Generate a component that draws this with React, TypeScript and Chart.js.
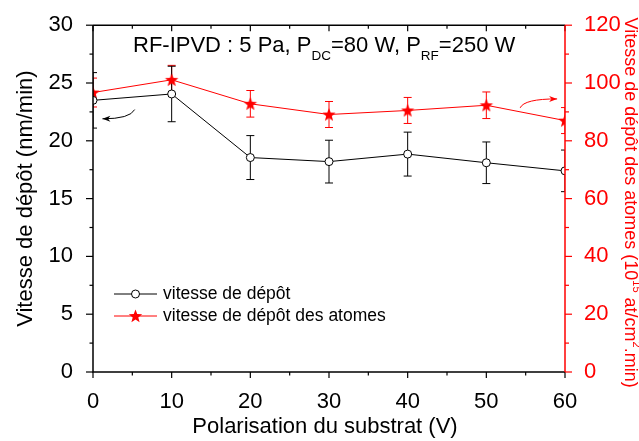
import React, { useEffect, useRef } from 'react';
import { Chart, registerables } from 'chart.js';

Chart.register(...registerables);

// ---- data ----
const bias = [0, 10, 20, 30, 40, 50, 60];
const depositionRate = [23.5, 24.05, 18.55, 18.2, 18.85, 18.1, 17.4];
const depositionRateErr = [2.4, 2.4, 1.9, 1.85, 1.9, 1.8, 1.8];
const atomRate = [96.7, 101.1, 92.8, 89.1, 90.5, 92.3, 87.0];
const atomRateErr = [5.0, 5.0, 4.6, 4.5, 4.5, 4.6, 4.5];

const xTicks = [0, 10, 20, 30, 40, 50, 60];
const leftTicks = [0, 5, 10, 15, 20, 25, 30];
const rightTicks = [0, 20, 40, 60, 80, 100, 120];

const xTitle = 'Polarisation du substrat (V)';
const leftTitle = 'Vitesse de dépôt (nm/min)';
const legendLabels = ['vitesse de dépôt', 'vitesse de dépôt des atomes'];

// annotation arrows, in data coordinates [x, y]
const leftArrow = { tail: [5.3, 22.7], ctrl: [4.7, 21.9], head: [1.2, 21.9] };
const rightArrow = { tail: [54.3, 91.4], ctrl: [54.8, 94.5], head: [59.0, 94.5] };

const FONT = '"Liberation Sans", Arial, Helvetica, sans-serif';
const RED = '#ff0000';

function starPath(g: CanvasRenderingContext2D, cx: number, cy: number, r: number) {
  g.beginPath();
  for (let i = 0; i < 10; i++) {
    const rad = i % 2 === 0 ? r : r * 0.42;
    const a = -Math.PI / 2 + (i * Math.PI) / 5;
    const x = cx + rad * Math.cos(a);
    const y = cy + rad * Math.sin(a);
    if (i === 0) g.moveTo(x, y);
    else g.lineTo(x, y);
  }
  g.closePath();
}

function makeStar(color: string, r: number) {
  const size = Math.ceil(r * 2 + 2);
  const c = document.createElement('canvas');
  c.width = size;
  c.height = size;
  const g = c.getContext('2d')!;
  g.fillStyle = color;
  starPath(g, size / 2, size / 2 + 0.5, r);
  g.fill();
  return c;
}

function drawSegments(
  ctx: CanvasRenderingContext2D,
  segs: { t: string; mode?: 'sub' | 'sup' }[],
  x0: number,
  y0: number,
  size: number,
  small: number,
  align: 'left' | 'center'
) {
  const fontMain = `${size}px ${FONT}`;
  const fontSmall = `${small}px ${FONT}`;
  let total = 0;
  for (const s of segs) {
    ctx.font = s.mode ? fontSmall : fontMain;
    total += ctx.measureText(s.t).width;
  }
  let x = align === 'center' ? x0 - total / 2 : x0;
  ctx.textAlign = 'left';
  ctx.textBaseline = 'alphabetic';
  for (const s of segs) {
    ctx.font = s.mode ? fontSmall : fontMain;
    let dy = 0;
    if (s.mode === 'sub') dy = size * 0.36;
    if (s.mode === 'sup') dy = -size * 0.45;
    ctx.fillText(s.t, x, y0 + dy);
    x += ctx.measureText(s.t).width;
  }
}

function drawArrow(ctx: CanvasRenderingContext2D, xs: any, ys: any, arr: any, color: string) {
  const T = [xs.getPixelForValue(arr.tail[0]), ys.getPixelForValue(arr.tail[1])];
  const C = [xs.getPixelForValue(arr.ctrl[0]), ys.getPixelForValue(arr.ctrl[1])];
  const H = [xs.getPixelForValue(arr.head[0]), ys.getPixelForValue(arr.head[1])];
  ctx.save();
  ctx.strokeStyle = color;
  ctx.fillStyle = color;
  ctx.lineWidth = 1;
  ctx.beginPath();
  ctx.moveTo(T[0], T[1]);
  ctx.quadraticCurveTo(C[0], C[1], H[0], H[1]);
  ctx.stroke();
  const ang = Math.atan2(H[1] - C[1], H[0] - C[0]);
  const L = 8;
  const W = 3;
  ctx.beginPath();
  ctx.moveTo(H[0], H[1]);
  ctx.lineTo(H[0] - L * Math.cos(ang) + W * Math.sin(ang), H[1] - L * Math.sin(ang) - W * Math.cos(ang));
  ctx.lineTo(H[0] - L * 0.7 * Math.cos(ang), H[1] - L * 0.7 * Math.sin(ang));
  ctx.lineTo(H[0] - L * Math.cos(ang) - W * Math.sin(ang), H[1] - L * Math.sin(ang) + W * Math.cos(ang));
  ctx.closePath();
  ctx.fill();
  ctx.restore();
}

const overlayPlugin = {
  id: 'overlay',
  beforeDatasetsDraw(chart: any) {
    const { ctx, chartArea: a, scales } = chart;
    ctx.save();
    ctx.beginPath();
    ctx.rect(a.left, a.top, a.right - a.left, a.bottom - a.top);
    ctx.clip();
    const drawErr = (vals: number[], errs: number[], ys: any, color: string, cap: number) => {
      ctx.strokeStyle = color;
      ctx.lineWidth = 1;
      for (let i = 0; i < bias.length; i++) {
        const x = scales.x.getPixelForValue(bias[i]);
        const yt = ys.getPixelForValue(vals[i] + errs[i]);
        const yb = ys.getPixelForValue(vals[i] - errs[i]);
        ctx.beginPath();
        ctx.moveTo(x, yt);
        ctx.lineTo(x, yb);
        ctx.moveTo(x - cap, yt);
        ctx.lineTo(x + cap, yt);
        ctx.moveTo(x - cap, yb);
        ctx.lineTo(x + cap, yb);
        ctx.stroke();
      }
    };
    drawErr(atomRate, atomRateErr, scales.y1, RED, 4);
    drawErr(depositionRate, depositionRateErr, scales.y, '#000', 4);
    ctx.restore();
  },
  afterDraw(chart: any) {
    const { ctx, chartArea: a, scales } = chart;
    const xs = scales.x;
    const yl = scales.y;
    const yr = scales.y1;
    ctx.save();

    // arrows
    drawArrow(ctx, xs, yl, leftArrow, '#000');
    drawArrow(ctx, xs, yr, rightArrow, RED);

    // frame
    ctx.lineWidth = 1.5;
    ctx.strokeStyle = '#000';
    ctx.beginPath();
    ctx.moveTo(a.left, a.top);
    ctx.lineTo(a.right, a.top);
    ctx.moveTo(a.left, a.top);
    ctx.lineTo(a.left, a.bottom);
    ctx.lineTo(a.right, a.bottom);
    ctx.stroke();

    // x ticks (bottom outward, top inward)
    ctx.lineWidth = 1.2;
    for (let v = 0; v <= 60; v += 5) {
      const x = xs.getPixelForValue(v);
      const L = v % 10 === 0 ? 6 : 3.5;
      ctx.beginPath();
      ctx.moveTo(x, a.bottom);
      ctx.lineTo(x, a.bottom + L);
      ctx.moveTo(x, a.top);
      ctx.lineTo(x, a.top + L);
      ctx.stroke();
    }
    // left ticks
    for (let v = 0; v <= 30; v += 2.5) {
      const y = yl.getPixelForValue(v);
      const L = v % 5 === 0 ? 7 : 3.5;
      ctx.beginPath();
      ctx.moveTo(a.left, y);
      ctx.lineTo(a.left - L, y);
      ctx.stroke();
    }
    // right axis (red)
    ctx.strokeStyle = RED;
    ctx.lineWidth = 1.5;
    ctx.beginPath();
    ctx.moveTo(a.right, a.top);
    ctx.lineTo(a.right, a.bottom);
    ctx.stroke();
    ctx.lineWidth = 1.2;
    for (let v = 0; v <= 120; v += 10) {
      const y = yr.getPixelForValue(v);
      const L = v % 20 === 0 ? 7 : 4;
      ctx.beginPath();
      ctx.moveTo(a.right, y);
      ctx.lineTo(a.right + L, y);
      ctx.stroke();
    }

    // in-plot title
    ctx.fillStyle = '#000';
    drawSegments(
      ctx,
      [
        { t: 'RF-IPVD : 5 Pa, P' },
        { t: 'DC', mode: 'sub' },
        { t: '=80 W, P' },
        { t: 'RF', mode: 'sub' },
        { t: '=250 W' },
      ],
      a.left + 40,
      a.top + 27,
      22,
      13.5,
      'left'
    );

    // axis titles
    const midY = (a.top + a.bottom) / 2;
    const midX = (a.left + a.right) / 2;
    ctx.fillStyle = '#000';
    ctx.font = `22px ${FONT}`;
    ctx.textAlign = 'center';
    ctx.textBaseline = 'alphabetic';
    ctx.fillText(xTitle, midX - 4, 433);

    ctx.save();
    ctx.translate(32, midY);
    ctx.rotate(-Math.PI / 2);
    ctx.fillText(leftTitle, 0, 0);
    ctx.restore();

    ctx.save();
    ctx.fillStyle = RED;
    ctx.translate(625, midY + 4);
    ctx.rotate(Math.PI / 2);
    drawSegments(
      ctx,
      [
        { t: 'Vitesse de dépôt des atomes (10' },
        { t: '15', mode: 'sup' },
        { t: ' at/cm' },
        { t: '2', mode: 'sup' },
        { t: '.min)' },
      ],
      0,
      0,
      18,
      11,
      'center'
    );
    ctx.restore();

    // legend
    const lx0 = a.left + 21;
    const lx1 = a.left + 64;
    const lxm = (lx0 + lx1) / 2;
    const ly = [a.bottom - 78, a.bottom - 56];
    ctx.lineWidth = 1;
    ctx.strokeStyle = '#000';
    ctx.beginPath();
    ctx.moveTo(lx0, ly[0]);
    ctx.lineTo(lx1, ly[0]);
    ctx.stroke();
    ctx.beginPath();
    ctx.arc(lxm, ly[0], 4, 0, Math.PI * 2);
    ctx.fillStyle = '#fff';
    ctx.fill();
    ctx.stroke();
    ctx.strokeStyle = RED;
    ctx.beginPath();
    ctx.moveTo(lx0, ly[1]);
    ctx.lineTo(lx1, ly[1]);
    ctx.stroke();
    ctx.fillStyle = RED;
    starPath(ctx, lxm, ly[1] + 0.5, 7);
    ctx.fill();
    ctx.fillStyle = '#000';
    ctx.font = `17.5px ${FONT}`;
    ctx.textAlign = 'left';
    ctx.textBaseline = 'middle';
    ctx.fillText(legendLabels[0], a.left + 70, ly[0]);
    ctx.fillText(legendLabels[1], a.left + 70, ly[1]);

    ctx.restore();
  },
};

export default function App() {
  const ref = useRef<HTMLCanvasElement>(null);
  useEffect(() => {
    if (!ref.current) return;
    const star = makeStar(RED, 7);
    const chart = new Chart(ref.current, {
      type: 'line',
      data: {
        datasets: [
          {
            label: legendLabels[0],
            data: bias.map((x, i) => ({ x, y: depositionRate[i] })),
            yAxisID: 'y',
            borderColor: '#000',
            borderWidth: 1,
            pointStyle: 'circle',
            pointRadius: 4,
            pointBorderWidth: 1,
            pointBackgroundColor: '#fff',
            pointBorderColor: '#000',
            tension: 0,
            clip: 0,
          },
          {
            label: legendLabels[1],
            data: bias.map((x, i) => ({ x, y: atomRate[i] })),
            yAxisID: 'y1',
            borderColor: RED,
            borderWidth: 1,
            pointStyle: star as any,
            pointRadius: 7,
            tension: 0,
            clip: 0,
          },
        ],
      },
      options: {
        responsive: false,
        animation: false,
        devicePixelRatio: 1,
        layout: { padding: { top: 23, left: 0, right: 0, bottom: 0 } },
        plugins: { legend: { display: false }, tooltip: { enabled: false }, title: { display: false } },
        scales: {
          x: {
            type: 'linear',
            min: 0,
            max: 60,
            afterBuildTicks: (s: any) => {
              s.ticks = xTicks.map((v) => ({ value: v }));
            },
            afterFit: (s: any) => {
              s.height = 69;
            },
            grid: { display: false },
            border: { display: false },
            ticks: { color: '#000', font: { family: FONT, size: 22 }, padding: 9, maxRotation: 0 },
          },
          y: {
            type: 'linear',
            position: 'left',
            min: 0,
            max: 30,
            afterBuildTicks: (s: any) => {
              s.ticks = leftTicks.map((v) => ({ value: v }));
            },
            afterFit: (s: any) => {
              s.width = 93;
            },
            grid: { display: false },
            border: { display: false },
            ticks: { color: '#000', font: { family: FONT, size: 22 }, padding: 12 },
          },
          y1: {
            type: 'linear',
            position: 'right',
            min: 0,
            max: 120,
            afterBuildTicks: (s: any) => {
              s.ticks = rightTicks.map((v) => ({ value: v }));
            },
            afterFit: (s: any) => {
              s.width = 74;
            },
            grid: { display: false },
            border: { display: false },
            ticks: { color: RED, font: { family: FONT, size: 22 }, padding: 11 },
          },
        },
      },
      plugins: [overlayPlugin],
    });
    return () => chart.destroy();
  }, []);
  return (
    <div style={{ position: 'absolute', left: 0, top: 0, width: 639, height: 441, background: '#fff' }}>
      <canvas ref={ref} width={639} height={441} style={{ display: 'block', width: 639, height: 441 }} />
    </div>
  );
}
